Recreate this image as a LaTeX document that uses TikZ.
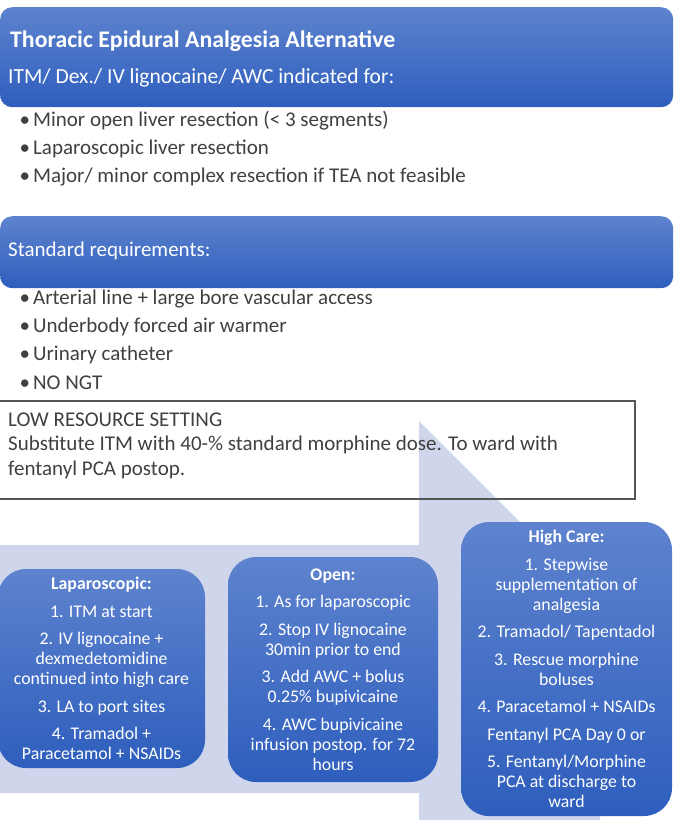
\documentclass[tikz,border=0pt]{standalone}
\usepackage{fontspec}
\setmainfont{Carlito}
\definecolor{boxtop}{RGB}{94,131,206}
\definecolor{boxbot}{RGB}{46,94,189}
\definecolor{lav}{RGB}{207,213,234}
\definecolor{bodytxt}{RGB}{64,64,64}
\definecolor{lowline}{RGB}{85,85,85}
\tikzset{
  hdrbox/.style={rounded corners=12pt, top color=boxtop, bottom color=boxbot, draw=none, anchor=north west, inner sep=0pt},
  hdrtxt/.style={anchor=west, inner sep=0pt, text=white, font=\fontsize{21.5}{24}\selectfont},
  bul/.style={anchor=west, inner sep=0pt, text=bodytxt, font=\fontsize{21}{24}\selectfont},
  lowbox/.style={draw=lowline, line width=1.6pt, anchor=north west, inner sep=0pt},
  lowtxt/.style={anchor=west, inner sep=0pt, text=bodytxt, font=\fontsize{21}{24}\selectfont},
  cbox/.style={rounded corners=28pt, top color=boxtop, bottom color=boxbot, draw=none, inner sep=0pt,
    text=white, align=center, font=\fontsize{17.8}{20}\selectfont}
}
\begin{document}
\begin{tikzpicture}[x=1pt,y=-1pt]
\useasboundingbox (0,0) rectangle (679,820);
% background bent arrow
\fill[lav] (0,545) -- (419,545) -- (419,421) -- (600,602) -- (600,825) -- (419,825) -- (419,793) -- (0,793) -- cycle;
% header
\node[hdrbox, minimum width=673pt, minimum height=100pt] (hdr) at (0,7) {};
\node[hdrtxt, font=\bfseries\fontsize{23.8}{26}\selectfont] (title) at (10,41) {Thoracic Epidural Analgesia Alternative};
\node[hdrtxt] (sub) at (8,78) {ITM/ Dex./ IV lignocaine/ AWC indicated for:};
\node[bul] (b1) at (19.5,121) {•\hspace{3pt}Minor open liver resection (< 3 segments)};
\node[bul] (b2) at (19.5,149) {•\hspace{3pt}Laparoscopic liver resection};
\node[bul] (b3) at (19.5,177) {•\hspace{3pt}Major/ minor complex resection if TEA not feasible};
% standard requirements
\node[hdrbox, minimum width=673pt, minimum height=72pt] (std) at (0,216) {};
\node[hdrtxt, font=\fontsize{21}{24}\selectfont] (stdt) at (8,251) {Standard requirements:};
\node[bul] (s1) at (19.5,299) {•\hspace{3pt}Arterial line + large bore vascular access};
\node[bul] (s2) at (19.5,327) {•\hspace{3pt}Underbody forced air warmer};
\node[bul] (s3) at (19.5,355) {•\hspace{3pt}Urinary catheter};
\node[bul] (s4) at (19.5,383) {•\hspace{3pt}NO NGT};
% low resource
\node[lowbox, minimum width=637pt, minimum height=98pt] (low) at (-3,400) {};
\node[lowtxt] (l1) at (8,420) {LOW RESOURCE SETTING};
\node[lowtxt] (l2) at (8,445) {Substitute ITM with 40-\% standard morphine dose. To ward with};
\node[lowtxt] (l3) at (8,470) {fentanyl PCA postop.};
% bottom boxes
\node[cbox, minimum width=207pt, minimum height=199pt] (lap) at (101.5,668.5) {\textbf{Laparoscopic:}\\[7.5pt]
1. ITM at start\\[7.5pt]
2. IV lignocaine +\\ dexmedetomidine\\ continued into high care\\[7.5pt]
3. LA to port sites\\[7.5pt]
4. Tramadol +\\ Paracetamol + NSAIDs};
\node[cbox, minimum width=210pt, minimum height=225pt] (open) at (333,669.5) {\textbf{Open:}\\[7.5pt]
1. As for laparoscopic\\[7.5pt]
2. Stop IV lignocaine\\ 30min prior to end\\[7.5pt]
3. Add AWC + bolus\\ 0.25\% bupivicaine\\[7.5pt]
4. AWC bupivicaine\\ infusion postop. for 72\\ hours};
\node[cbox, minimum width=211pt, minimum height=294pt] (high) at (566.5,669) {\textbf{High Care:}\\[7.5pt]
1. Stepwise\\ supplementation of\\ analgesia\\[7.5pt]
2. Tramadol/ Tapentadol\\[7.5pt]
3. Rescue morphine\\ boluses\\[7.5pt]
4. Paracetamol + NSAIDs\\[7.5pt]
Fentanyl PCA Day 0 or\\[7.5pt]
5. Fentanyl/Morphine\\ PCA at discharge to\\ ward};
\end{tikzpicture}
\end{document}
